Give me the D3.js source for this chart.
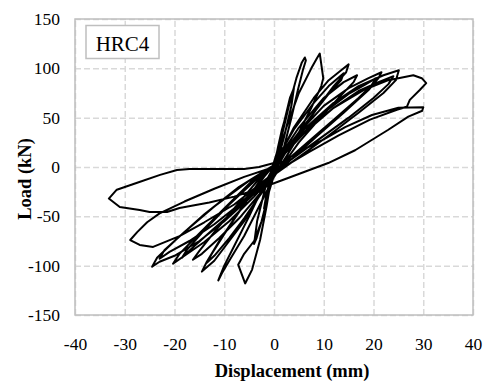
<!DOCTYPE html>
<html>
<head>
<meta charset="utf-8">
<script src="https://cdn.jsdelivr.net/npm/d3@7"></script>
<style>
  body { margin: 0; background: #fff; }
  svg text { font-family: "Liberation Serif", "Times New Roman", serif; fill: #000; }
</style>
</head>
<body>
<div id="chart"></div>
<script>
// hysteresis trace, one line per cycle
const disp = [
  0, 0.8, 1.6, 2.0, 1.6, 0.5, -0.5, -1.5, -2.0, -1.6, -0.6,
  0.8, 2.0, 3.2, 4.0, 3.5, 2.0, 0.5, -0.8, -2.2, -3.5, -4.0, -3.4, -1.8, -0.3,
  1.5, 3.0, 4.5, 5.6, 6.2, 6.4, 5.8, 4.8, 3.5, 2.0, 0.5, -1.0, -2.5, -4.0, -6.0, -7.2, -5.8, -4.4, -2.8, -1.5, -0.5, 0.5,
  2.5, 5.0, 7.5, 8.6, 9.2, 9.9, 9.5, 7.5, 5.0, 2.5, 0, -3, -6, -9, -10.5, -11.2, -10, -8, -5, -2, 0.5,
  4, 8, 11, 13.5, 15, 14.5, 12, 9, 6, 3, 0.5, -3, -6, -9, -12, -14.5, -13.5, -11, -7, -3, 0,
  4, 8, 11, 14, 13.5, 11, 8, 5, 2, 0, -3, -6, -9, -12, -13.5, -12.5, -10, -6, -2, 0,
  5, 10, 14, 16.7, 16, 13, 9, 5, 1.5, -3, -7, -11, -14.5, -16.3, -15, -12, -8, -3, 0,
  5, 10, 15, 19, 21.6, 21, 19, 14, 9, 4, 0, -4, -9, -14, -18, -20.3, -19, -15.5, -10, -4, 0,
  5, 10, 15, 18.5, 20.5, 19.5, 17, 12, 7, 2, -2, -7, -12, -16, -18.5, -17.5, -14, -9, -3, 0,
  6, 12, 17, 22, 25.1, 24.5, 22, 17, 11, 5, 0, -5, -10, -15, -20, -23, -24.5, -23.5, -20, -14, -7, 0,
  6, 12, 17, 21, 24, 23, 20, 15, 9, 3, -2, -7, -12, -17, -21, -23, -22, -18, -12, -5, 0,
  6, 12, 18, 23, 26, 28, 29.7, 30.6, 29.3, 27.3, 26.7, 24.7, 19.3, 13, 7, 2, -3, -8, -14, -19, -24.3, -27, -28.9, -27.5, -25.5, -23, -18, -12, -6, 0,
  5, 10, 14.3, 19.7, 25, 30, 29.8, 27, 22.9, 16.3, 10.9, 0.8, -3, -8, -13, -19, -21.5, -25, -27, -31, -33.2, -31.6, -27.5, -22.9, -19.5, -17, -10, -6, -3, 0
];
const load = [
  0, 20, 38, 45, 30, 5, -15, -35, -42, -30, -8,
  18, 45, 70, 80, 62, 30, 2, -20, -50, -72, -78, -55, -22, 0,
  30, 62, 90, 106, 111, 108, 98, 78, 50, 20, 0, -25, -55, -75, -88, -99, -118, -104, -74, -40, -10, 5,
  40, 75, 100, 110, 115, 90, 82, 60, 35, 10, -10, -40, -70, -95, -108, -115, -100, -80, -50, -18, 5,
  40, 70, 88, 98, 104, 96, 82, 62, 40, 15, -5, -30, -55, -75, -95, -106, -96, -75, -45, -15, 3,
  38, 65, 82, 95, 88, 74, 55, 35, 12, -6, -30, -52, -72, -90, -97, -88, -68, -38, -10, 2,
  40, 70, 86, 93, 86, 70, 48, 25, 0, -28, -52, -72, -88, -94, -85, -66, -42, -12, 2,
  35, 62, 80, 90, 96, 90, 78, 55, 33, 10, -8, -30, -55, -76, -90, -98, -88, -70, -42, -12, 2,
  30, 55, 74, 84, 90, 82, 70, 48, 26, 4, -15, -40, -62, -80, -92, -84, -64, -38, -10, 2,
  38, 65, 82, 93, 98, 88, 75, 55, 32, 10, -8, -32, -55, -75, -90, -96, -101, -92, -75, -48, -20, 2,
  34, 60, 77, 86, 92, 84, 70, 50, 28, 6, -14, -38, -58, -75, -86, -93, -84, -66, -40, -14, 2,
  35, 60, 78, 88, 91, 93, 90, 85, 78, 68, 61, 58, 48, 32, 15, 0, -18, -38, -56, -70, -81, -79, -74, -66, -56, -47, -35, -22, -10, 0,
  15, 28, 40.5, 52.7, 60, 60.5, 57, 51, 37.5, 17, 4, -15, -22, -30, -36, -41.5, -45.6, -45.6, -43.6, -40.5, -32, -23, -16, -8, -3, -2, -2, -2, 0, 4
];

const xTicks = [-40, -30, -20, -10, 0, 10, 20, 30, 40];
const yTicks = [-150, -100, -50, 0, 50, 100, 150];
const seriesName = 'HRC4';

const width = 490, height = 384;
const mLeft = 75, mRight = 473, mTop = 19, mBottom = 315;
const serif = '"Liberation Serif", "Times New Roman", serif';

const svg = d3.select('#chart')
  .append('svg')
    .attr('width', width)
    .attr('height', height);

const x = d3.scaleLinear().domain([-40, 40]).range([mLeft, mRight]);
const y = d3.scaleLinear().domain([-150, 150]).range([mBottom, mTop]);

// gridlines
svg.append('g')
  .attr('transform', 'translate(0,' + mBottom + ')')
  .call(d3.axisBottom(x).tickValues(xTicks).tickSize(-(mBottom - mTop)).tickFormat(''))
  .call(g => g.select('.domain').remove())
  .selectAll('line')
    .attr('stroke', '#d9d9d9')
    .attr('stroke-width', 1.5)
    .attr('stroke-dasharray', '6,3');

svg.append('g')
  .attr('transform', 'translate(' + mLeft + ',0)')
  .call(d3.axisLeft(y).tickValues(yTicks).tickSize(-(mRight - mLeft)).tickFormat(''))
  .call(g => g.select('.domain').remove())
  .selectAll('line')
    .attr('stroke', '#d9d9d9')
    .attr('stroke-width', 1.5)
    .attr('stroke-dasharray', '6,3');

// plot border
svg.append('rect')
  .attr('x', mLeft)
  .attr('y', mTop)
  .attr('width', mRight - mLeft)
  .attr('height', mBottom - mTop)
  .attr('fill', 'none')
  .attr('stroke', '#bfbfbf')
  .attr('stroke-width', 1.5);

// tick labels
svg.append('g')
  .attr('transform', 'translate(0,' + mBottom + ')')
  .call(d3.axisBottom(x).tickValues(xTicks).tickSize(0).tickPadding(23).tickFormat(d => d))
  .call(g => g.select('.domain').remove())
  .selectAll('text')
    .style('font-family', serif)
    .style('font-size', '17.5px')
    .style('fill', '#000');

svg.append('g')
  .attr('transform', 'translate(' + mLeft + ',0)')
  .call(d3.axisLeft(y).tickValues(yTicks).tickSize(0).tickPadding(15).tickFormat(d => d))
  .call(g => g.select('.domain').remove())
  .selectAll('text')
    .style('font-family', serif)
    .style('font-size', '17.5px')
    .style('fill', '#000');

// the curve
const pts = disp.map((d, i) => [d, load[i]]);
svg.append('path')
  .datum(pts)
  .attr('fill', 'none')
  .attr('stroke', '#000')
  .attr('stroke-width', 2)
  .attr('stroke-linejoin', 'round')
  .attr('d', d3.line().x(d => x(d[0])).y(d => y(d[1])));

// legend box
svg.append('rect')
  .attr('x', 86)
  .attr('y', 25.5)
  .attr('width', 73)
  .attr('height', 33)
  .attr('fill', '#fff')
  .attr('stroke', '#bfbfbf')
  .attr('stroke-width', 1.5);

svg.append('text')
  .attr('x', 122.5)
  .attr('y', 51)
  .attr('text-anchor', 'middle')
  .style('font-size', '21px')
  .text(seriesName);

// axis titles
svg.append('text')
  .attr('x', 292)
  .attr('y', 377)
  .attr('text-anchor', 'middle')
  .style('font-size', '18.5px')
  .style('font-weight', 'bold')
  .text('Displacement (mm)');

svg.append('text')
  .attr('transform', 'translate(31,179) rotate(-90)')
  .attr('text-anchor', 'middle')
  .style('font-size', '18.5px')
  .style('font-weight', 'bold')
  .text('Load (kN)');
</script>
</body>
</html>
